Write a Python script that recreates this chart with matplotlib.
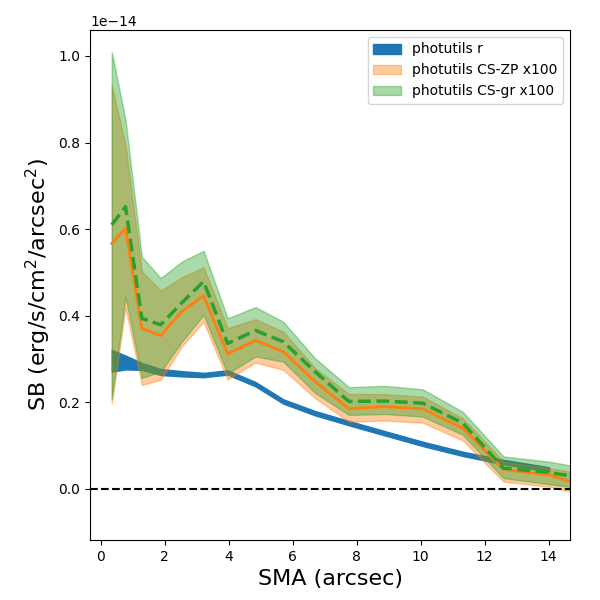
import numpy as np
import matplotlib
matplotlib.use('Agg')
import matplotlib.pyplot as plt

# semi-major axis (arcsec)
sma = [0.35, 0.78, 1.29, 1.88, 2.54, 3.22, 3.97, 4.84, 5.71, 6.70, 7.76,
       8.86, 10.07, 11.32, 12.59, 14.02, 15.5]
sma_r = sma[:16]

# surface brightness in units of 1e-14 erg/s/cm^2/arcsec^2
sb_r = [0.296, 0.292, 0.283, 0.270, 0.266, 0.263, 0.269, 0.242, 0.202, 0.175,
        0.152, 0.129, 0.104, 0.081, 0.062, 0.045]
sb_r_err = [0.025, 0.016, 0.008, 0.007, 0.006, 0.005, 0.005, 0.005, 0.005,
            0.005, 0.005, 0.005, 0.005, 0.005, 0.005, 0.005]

zp_mid = [0.567, 0.602, 0.371, 0.354, 0.410, 0.446, 0.312, 0.343, 0.317, 0.248,
          0.185, 0.190, 0.185, 0.140, 0.045, 0.032, -0.002]
zp_up = [0.933, 0.794, 0.502, 0.458, 0.489, 0.512, 0.371, 0.392, 0.363, 0.279,
         0.219, 0.219, 0.213, 0.163, 0.063, 0.048, 0.030]
zp_lo = [0.198, 0.418, 0.240, 0.252, 0.329, 0.386, 0.253, 0.292, 0.275, 0.210,
         0.155, 0.158, 0.153, 0.112, 0.017, 0.005, -0.020]

gr_mid = [0.610, 0.652, 0.394, 0.379, 0.430, 0.479, 0.336, 0.366, 0.340, 0.271,
          0.202, 0.203, 0.198, 0.152, 0.048, 0.038, 0.020]
gr_up = [1.009, 0.852, 0.536, 0.487, 0.525, 0.550, 0.394, 0.420, 0.386, 0.302,
         0.235, 0.238, 0.230, 0.178, 0.075, 0.063, 0.043]
gr_lo = [0.208, 0.444, 0.256, 0.271, 0.340, 0.402, 0.266, 0.306, 0.294, 0.222,
         0.171, 0.173, 0.167, 0.125, 0.025, 0.011, -0.003]

scale = 1e-14
sb_r = np.array(sb_r) * scale
sb_r_err = np.array(sb_r_err) * scale
zp_mid, zp_up, zp_lo = [np.array(a) * scale for a in (zp_mid, zp_up, zp_lo)]
gr_mid, gr_up, gr_lo = [np.array(a) * scale for a in (gr_mid, gr_up, gr_lo)]

fig = plt.figure(figsize=(6, 6), dpi=100)
ax = fig.add_subplot(111)
fig.subplots_adjust(left=0.15, right=0.95, bottom=0.1, top=0.95)

ax.fill_between(sma_r, sb_r - sb_r_err, sb_r + sb_r_err, color='C0',
                label='photutils r')
ax.fill_between(sma, zp_lo, zp_up, color='C1', alpha=0.4,
                label='photutils CS-ZP x100')
ax.plot(sma, zp_mid, color='C1', linewidth=2)
ax.fill_between(sma, gr_lo, gr_up, color='C2', alpha=0.4,
                label='photutils CS-gr x100')
ax.plot(sma, gr_mid, color='C2', linestyle='--', linewidth=2.5)

ax.axhline(0, color='k', linestyle='--', linewidth=1.5)

ax.set_xlim(-0.33, 14.67)
ax.set_ylim(-0.118e-14, 1.06e-14)
ax.set_xlabel('SMA (arcsec)', fontsize=16)
ax.set_ylabel('SB (erg/s/cm$^2$/arcsec$^2$)', fontsize=16)
ax.legend(loc='upper right')

plt.savefig('out.png')
